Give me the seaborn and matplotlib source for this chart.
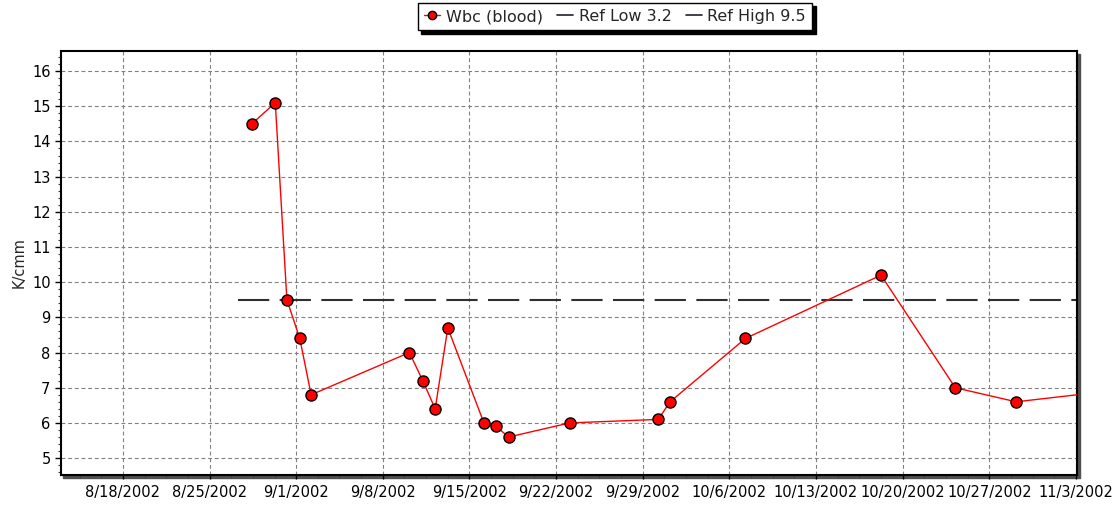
import numpy as np
import pandas as pd
import seaborn as sns
import matplotlib.pyplot as plt
import matplotlib.dates as mdates
from matplotlib.ticker import FuncFormatter, FixedLocator, MultipleLocator
from matplotlib.lines import Line2D
from matplotlib.patches import Rectangle

# WBC readings (K/cmm), last one lies just past the visible range
dates = ["2002-08-28 10:00", "2002-08-30 07:30", "2002-08-31 06:00", "2002-09-01 07:00",
         "2002-09-02 05:00", "2002-09-10 03:30", "2002-09-11 05:30", "2002-09-12 05:30",
         "2002-09-13 06:00", "2002-09-16 04:00", "2002-09-17 03:30", "2002-09-18 04:00",
         "2002-09-23 02:30", "2002-09-30 06:00", "2002-10-01 05:00", "2002-10-07 07:00",
         "2002-10-18 06:00", "2002-10-24 06:00", "2002-10-29 04:00", "2002-11-08 00:00"]
wbc = [14.5, 15.1, 9.5, 8.4, 6.8, 8.0, 7.2, 6.4, 8.7, 6.0, 5.9, 5.6,
       6.0, 6.1, 6.6, 8.4, 10.2, 7.0, 6.6, 7.0]

ref_low = 3.2
ref_high = 9.5
ref_start = "2002-08-27 08:00"
ref_end = "2002-11-10"

x_start = "2002-08-13"
x_end = "2002-11-03 02:00"
y_min, y_max = 4.52, 16.57
first_week = "2002-08-18"

df = pd.DataFrame({"date": pd.to_datetime(dates), "wbc": wbc})

sns.set_style("white")
plt.rcParams["font.family"] = ["DejaVu Sans"]
plt.rcParams["font.size"] = 10.5

fig = plt.figure(figsize=(11.15, 5.12), dpi=100)
pos = [61 / 1115, 1 - 475 / 512, (1077 - 61) / 1115, 424 / 512]
ax = fig.add_axes(pos)

# drop shadow behind the plot frame
fig.add_artist(Rectangle((pos[0] + 2.5 / 1115, pos[1] - 2.5 / 512), pos[2], pos[3],
                         transform=fig.transFigure, color="#505050", zorder=-1))

grid_kw = dict(color="#808080", lw=0.8, linestyle=(0, (3.5, 2.5)))
ax.grid(True, **grid_kw)
ax.set_axisbelow(True)

ax.hlines([ref_low, ref_high], pd.Timestamp(ref_start), pd.Timestamp(ref_end),
          colors="#303030", lw=1.5, linestyles=[(0, (15, 5))], zorder=2)

sns.lineplot(data=df, x="date", y="wbc", ax=ax, color="red", lw=1, marker="o",
             markersize=8, markerfacecolor="red", markeredgecolor="black",
             markeredgewidth=1, zorder=3, legend=False)

ax.set_xlim(pd.Timestamp(x_start), pd.Timestamp(x_end))
ax.set_ylim(y_min, y_max)

ax.xaxis.set_major_locator(mdates.WeekdayLocator(byweekday=mdates.SU))
ax.xaxis.set_major_formatter(FuncFormatter(
    lambda v, p: "{0.month}/{0.day}/{0.year}".format(mdates.num2date(v))))
wk0 = mdates.date2num(pd.Timestamp(first_week))
ax.xaxis.set_minor_locator(FixedLocator(np.arange(wk0 - 1.75 * 2, wk0 + 78, 1.75)))
ax.yaxis.set_major_locator(MultipleLocator(1))
ax.yaxis.set_minor_locator(MultipleLocator(0.2))

ax.tick_params(axis="both", which="major", direction="out", length=4, width=1,
               color="black", labelcolor="black", labelsize=10.5, bottom=True, left=True)
ax.tick_params(axis="x", which="major", length=3, pad=4)
ax.tick_params(axis="both", which="minor", direction="out", length=2, width=0.8,
               color="#404040", bottom=True, left=True)

for s in ax.spines.values():
    s.set_color("black")
    s.set_linewidth(1.5)

ax.set_xlabel("")
ax.set_ylabel("K/cmm", fontsize=10.5)
ax.yaxis.set_label_coords(-0.034, 0.5)

handles = [Line2D([], [], color="red", lw=1, marker="o", ms=6, mfc="red", mec="black"),
           Line2D([], [], color="#202030", lw=1.2),
           Line2D([], [], color="#202030", lw=1.2)]
labels = ["Wbc (blood)", "Ref Low {}".format(ref_low), "Ref High {}".format(ref_high)]
leg = fig.legend(handles, labels, loc="center", bbox_to_anchor=(615 / 1115, 1 - 16.5 / 512),
                 ncol=3, fontsize=11.5, handlelength=1.0, handletextpad=0.35,
                 columnspacing=0.9, borderpad=0.4, fancybox=False, framealpha=1,
                 edgecolor="black", shadow={"ox": 2.5, "oy": -2.5, "color": "black", "alpha": 1})
leg.get_frame().set_linewidth(1)

fig.savefig("out.png", dpi=100)
